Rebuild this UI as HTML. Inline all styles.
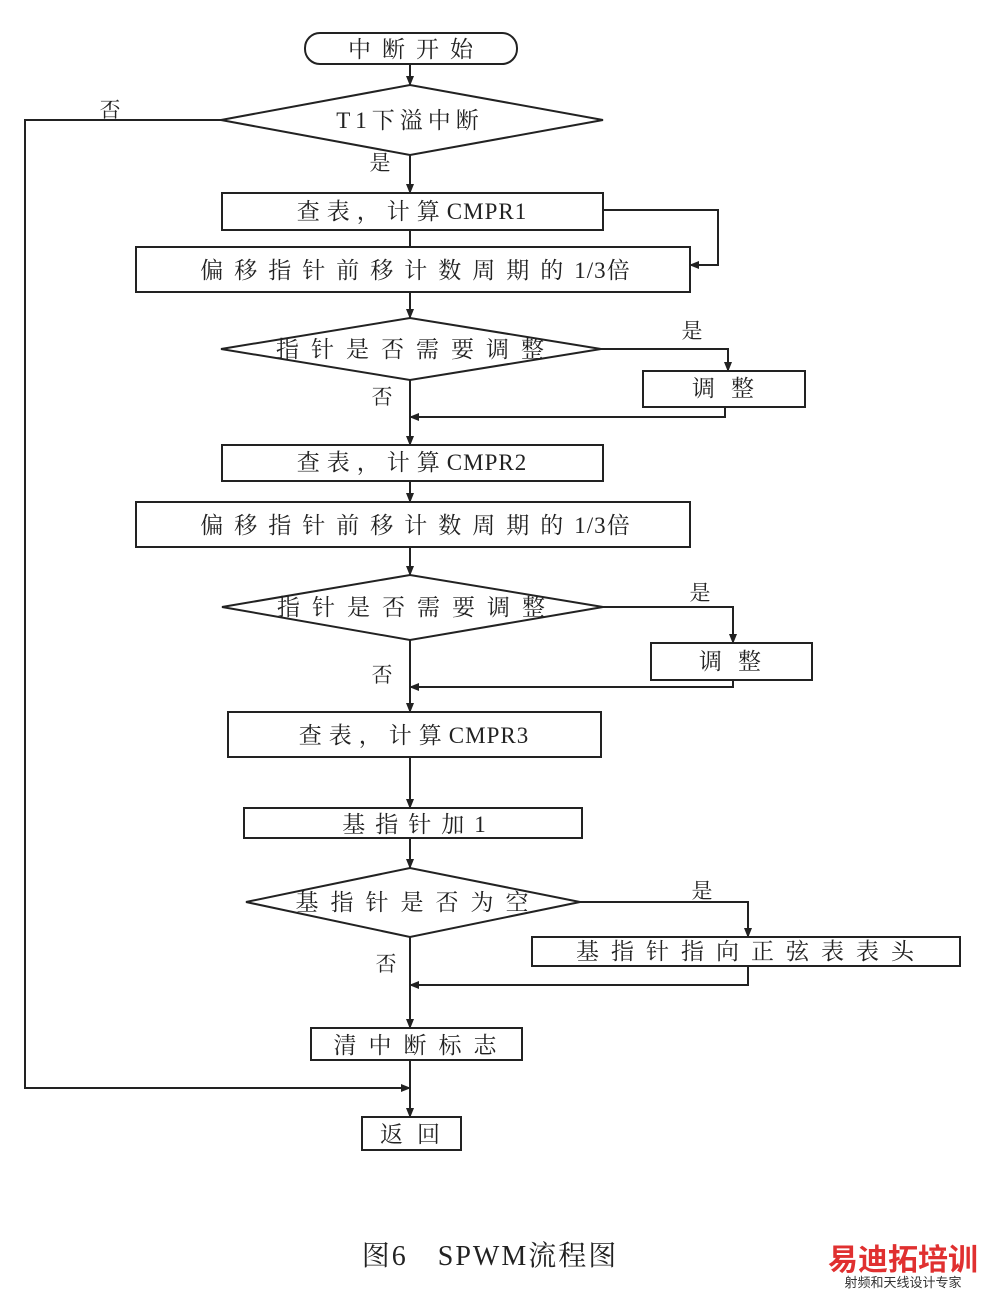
<!DOCTYPE html>
<html><head><meta charset="utf-8"><style>
html,body{margin:0;padding:0;background:#fff;}
svg{display:block;}
text{font-family:"Liberation Serif","Noto Serif CJK SC",serif;fill:#222;}
.l{letter-spacing:1px;}
</style></head><body>
<svg width="982" height="1290" viewBox="0 0 982 1290" xmlns="http://www.w3.org/2000/svg">
<defs><marker id="a" markerWidth="10" markerHeight="10" refX="9" refY="5" orient="auto" markerUnits="userSpaceOnUse"><path d="M0,1 L10,5 L0,9 z" fill="#222"/></marker></defs>
<g stroke="#222" stroke-width="2" fill="none">
<rect x="305" y="33" width="212" height="31" rx="15"/>
<line x1="410" y1="64" x2="410" y2="85" marker-end="url(#a)"/>
<polygon points="221,120 410,85 603,120 410,155"/>
<polyline points="221,120 25,120 25,1088 410,1088" marker-end="url(#a)"/>
<line x1="410" y1="155" x2="410" y2="193" marker-end="url(#a)"/>
<rect x="222" y="193" width="381" height="37"/>
<polyline points="603,210 718,210 718,265 690,265" marker-end="url(#a)"/>
<line x1="410" y1="230" x2="410" y2="247"/>
<rect x="136" y="247" width="554" height="45"/>
<line x1="410" y1="292" x2="410" y2="318" marker-end="url(#a)"/>
<polygon points="221,349 410,318 601,349 410,380"/>
<polyline points="601,349 728,349 728,371" marker-end="url(#a)"/>
<rect x="643" y="371" width="162" height="36"/>
<polyline points="725,407 725,417 410,417" marker-end="url(#a)"/>
<line x1="410" y1="380" x2="410" y2="445" marker-end="url(#a)"/>
<rect x="222" y="445" width="381" height="36"/>
<line x1="410" y1="481" x2="410" y2="502" marker-end="url(#a)"/>
<rect x="136" y="502" width="554" height="45"/>
<line x1="410" y1="547" x2="410" y2="575" marker-end="url(#a)"/>
<polygon points="222,607 410,575 603,607 410,640"/>
<polyline points="603,607 733,607 733,643" marker-end="url(#a)"/>
<rect x="651" y="643" width="161" height="37"/>
<polyline points="733,680 733,687 410,687" marker-end="url(#a)"/>
<line x1="410" y1="640" x2="410" y2="712" marker-end="url(#a)"/>
<rect x="228" y="712" width="373" height="45"/>
<line x1="410" y1="757" x2="410" y2="808" marker-end="url(#a)"/>
<rect x="244" y="808" width="338" height="30"/>
<line x1="410" y1="838" x2="410" y2="868" marker-end="url(#a)"/>
<polygon points="246,902 410,868 580,902 410,937"/>
<polyline points="580,902 748,902 748,937" marker-end="url(#a)"/>
<rect x="532" y="937" width="428" height="29"/>
<polyline points="748,966 748,985 410,985" marker-end="url(#a)"/>
<line x1="410" y1="937" x2="410" y2="1028" marker-end="url(#a)"/>
<rect x="311" y="1028" width="211" height="32"/>
<line x1="410" y1="1060" x2="410" y2="1117" marker-end="url(#a)"/>
<rect x="362" y="1117" width="99" height="33"/>
</g>
<g font-size="23" text-anchor="middle">
<text x="416" y="57" letter-spacing="11">中断开始</text>
<text x="410" y="128" letter-spacing="5">T1下溢中断</text>
<text x="412" y="219"><tspan letter-spacing="7">查表，计算</tspan><tspan class="l">CMPR1</tspan></text>
<text x="415" y="278"><tspan letter-spacing="11">偏移指针前移计数周期的</tspan><tspan class="l">1/3</tspan><tspan>倍</tspan></text>
<text x="416" y="357" letter-spacing="12">指针是否需要调整</text>
<text x="731" y="396" letter-spacing="16">调整</text>
<text x="412" y="470"><tspan letter-spacing="7">查表，计算</tspan><tspan class="l">CMPR2</tspan></text>
<text x="415" y="533"><tspan letter-spacing="11">偏移指针前移计数周期的</tspan><tspan class="l">1/3</tspan><tspan>倍</tspan></text>
<text x="417" y="615" letter-spacing="12">指针是否需要调整</text>
<text x="738" y="669" letter-spacing="16">调整</text>
<text x="414" y="743"><tspan letter-spacing="7">查表，计算</tspan><tspan class="l">CMPR3</tspan></text>
<text x="414" y="832"><tspan letter-spacing="10">基指针加</tspan>1</text>
<text x="418" y="910" letter-spacing="12">基指针是否为空</text>
<text x="751" y="959" letter-spacing="12">基指针指向正弦表表头</text>
<text x="421" y="1053" letter-spacing="12">清中断标志</text>
<text x="417" y="1142" letter-spacing="14">返回</text>
</g>
<g font-size="21" text-anchor="middle">
<text x="110" y="117">否</text>
<text x="380" y="170">是</text>
<text x="692" y="338">是</text>
<text x="382" y="404">否</text>
<text x="700" y="600">是</text>
<text x="382" y="682">否</text>
<text x="702" y="898">是</text>
<text x="386" y="971">否</text>
</g>
<text x="490" y="1265" font-size="28" text-anchor="middle" letter-spacing="2">图6　SPWM流程图</text>
<text x="903" y="1270" font-size="30" text-anchor="middle" style="fill:#e03030;font-family:'Noto Sans CJK SC',sans-serif;font-weight:bold">易迪拓培训</text>
<text x="903" y="1287" font-size="13" text-anchor="middle" style="fill:#333;font-family:'Noto Sans CJK SC',sans-serif">射频和天线设计专家</text>
</svg>
</body></html>
